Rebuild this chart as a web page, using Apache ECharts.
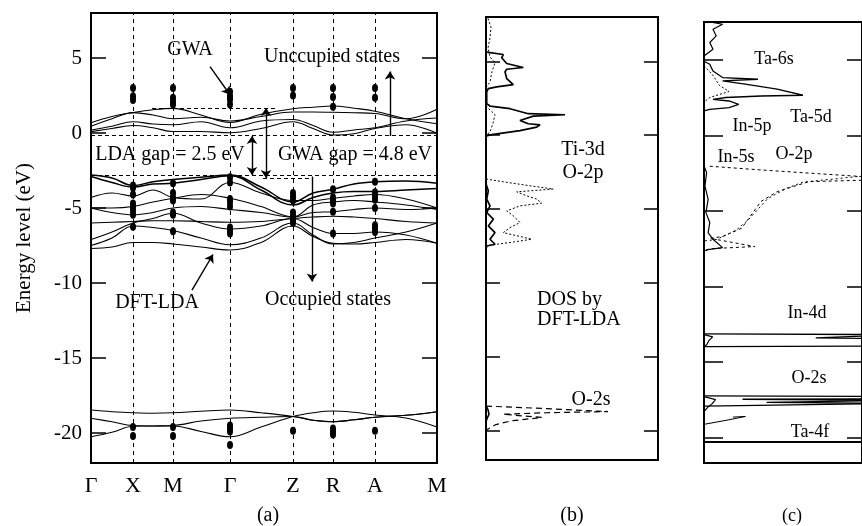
<!DOCTYPE html>
<html><head><meta charset="utf-8">
<script src="https://cdn.jsdelivr.net/npm/echarts@6/dist/echarts.min.js"></script>
<style>html,body{margin:0;padding:0;background:#fff}#c{width:862px;height:526px}</style>
</head><body><div id="c"></div>
<script>
// ---------- Panel (a): band structure ----------
const kPos   = [0, 42, 82, 139, 202, 242, 284, 346];
const kNames = ['Γ', 'X', 'M', 'Γ', 'Z', 'R', 'A', 'M'];
const kGrid  = [0, 21, 42, 62, 82, 110, 139, 170, 202, 222, 242, 263, 284, 315, 346];
const energyTicks = [-20, -15, -10, -5, 0, 5];

// conduction bands (eV)
const cb1 = [0.69, 1.1, 1.36, 1.55, 1.64, 1.2, 0.7, 1.25, 1.62, 1.72, 1.8, 1.65, 1.45, 0.95, 0.62];
const cb2 = [0.45, 0.95, 1.36, 1.2, 0.95, 1.05, 0.8, 1.1, 1.4, 1.4, 1.38, 1.35, 1.3, 0.95, 1.58];
const cb3 = [0.2, 0.45, 0.75, 0.6, 0.55, 0.75, 0.35, 0.8, 0.9, 0.5, 0.05, 0.2, 0.35, 0.8, 1.0];
const cb4 = [0.09, 0.3, 0.5, 0.35, 0.1, 0.1, 0.02, 0.3, 0.75, 0.3, -0.13, -0.05, 0.3, 0.55, -0.02];
// valence bands (eV)
const vb1 = [-2.8, -3.0, -3.5, -3.25, -3.1, -2.95, -2.8, -3.6, -4.6, -4.0, -3.75, -3.4, -3.25, -3.2, -3.35];
const vb2 = [-2.9, -3.3, -3.6, -3.4, -3.35, -3.1, -2.85, -3.8, -4.8, -4.3, -4.0, -3.9, -3.9, -3.8, -3.7];
const vb3 = [-4.3, -4.0, -4.2, -3.8, -4.3, -4.4, -3.3, -4.0, -4.5, -4.5, -4.35, -4.2, -4.1, -4.4, -5.0];
const vb4 = [-5.0, -5.0, -4.9, -4.6, -4.35, -4.1, -4.35, -4.9, -5.6, -4.8, -4.6, -4.5, -4.6, -4.8, -5.1];
const vb5 = [-5.0, -5.3, -5.45, -5.3, -5.0, -4.9, -5.1, -5.3, -5.6, -5.3, -5.25, -5.1, -5.0, -5.1, -5.0];
const vb6 = [-6.0, -5.95, -5.9, -5.85, -5.85, -5.9, -5.95, -5.9, -5.7, -5.6, -5.55, -5.6, -5.7, -5.9, -6.0];
const vb7 = [-7.1, -6.6, -6.0, -5.7, -5.35, -6.0, -6.4, -6.2, -5.7, -6.3, -6.7, -6.7, -6.6, -6.8, -7.35];
const vb8 = [-7.5, -7.0, -6.2, -6.3, -6.5, -7.0, -7.45, -7.0, -6.0, -6.8, -7.4, -7.3, -7.0, -6.6, -6.0];
const vb9 = [-7.7, -7.6, -7.3, -7.3, -7.4, -7.6, -7.8, -7.3, -6.2, -6.9, -7.35, -7.4, -7.3, -7.1, -7.35];
// O-2s bands (eV)
const sb1 = [-18.47, -18.58, -18.65, -18.68, -18.65, -18.55, -18.47, -18.65, -18.9, -19.15, -19.25, -19.12, -18.95, -18.82, -18.58];
const sb2 = [-19.02, -19.25, -19.5, -19.53, -19.53, -19.9, -20.25, -19.6, -18.9, -18.65, -18.53, -18.62, -18.8, -19.0, -19.6];
const sb3 = [-20.25, -19.95, -19.55, -19.53, -19.5, -19.2, -19.02, -18.95, -18.9, -19.15, -19.25, -19.12, -18.95, -18.82, -18.58];

// GWA quasiparticle energies at high-symmetry points (eV)
const gwaAtX = [3.0, 2.45, 2.2, -3.5, -3.65, -4.1, -4.7, -4.95, -5.2, -5.45, -6.25, -19.6, -20.2];
const gwaAtM = [3.0, 2.35, 2.1, 1.9, -3.35, -4.0, -4.3, -4.5, -5.3, -5.45, -6.55, -19.6, -20.2];
const gwaAtG = [2.75, 2.45, 2.25, 1.9, -2.95, -3.3, -4.4, -4.6, -4.9, -6.3, -6.5, -6.7, -19.5, -19.7, -19.9, -20.8];
const gwaAtZ = [3.0, 2.5, -4.0, -4.25, -4.5, -5.3, -5.55, -5.8, -6.0, -19.85];
const gwaAtR = [3.0, 2.4, 1.75, -3.75, -4.3, -4.5, -4.7, -5.25, -6.7, -19.7, -19.9, -20.1];
const gwaAtA = [3.0, 2.35, -3.25, -3.95, -4.2, -4.45, -5.0, -6.15, -6.35, -6.6, -19.85];

// ---------- Panel (b): DOS [dos, energy] ----------
const bTi3dCB = [[0,7.9],[0,5.65],[2.3,5.6],[17.3,5.46],[15.7,5.24],[20.7,4.85],[37.3,4.58],[20.7,4.46],[19,4.29],[20.7,3.83],[27.3,3.42],[10.7,3.27],[2.3,3.15],[0.7,2.93],[0.7,2.13],[4,1.97],[24,1.79],[42.3,1.45],[79,1.38],[47.3,1.29],[34,0.99],[42.3,0.77],[54,0.7],[50.7,0.54],[34,0.31],[4,0.02],[0,-0.07]];
const bTi3dVB = [[0,-3.3],[2.3,-3.77],[0.7,-4.33],[4,-4.79],[0.7,-5.24],[7.3,-5.69],[2.3,-6.15],[9,-6.6],[4,-7.05],[9,-7.39],[0.7,-7.51],[0,-7.73]];
const bO2pCB1 = [[2,7.9],[5,7.3],[4,6.6],[2,5.9],[4,5.3],[9,4.9],[6,4.3],[4,3.6],[0,3.2]];
const bO2pCB2 = [[0,2.0],[4,1.7],[9,1.4],[7,0.8],[4,0.2],[0,0]];
const bO2pVB = [[0,-2.97],[17.3,-3.16],[44,-3.43],[67.3,-3.65],[30.7,-3.84],[40.7,-4.11],[50.7,-4.33],[55.7,-4.61],[34,-4.79],[20.7,-5.13],[27.3,-5.47],[34,-5.92],[24,-6.26],[17.3,-6.6],[45.7,-7.05],[27.3,-7.24],[10.7,-7.39],[0,-7.51]];
const bO2s = [[0,-18.35],[60,-18.52],[122,-18.72],[60,-18.8],[17,-18.9],[56,-19.12],[25,-19.35],[10,-19.6],[0,-19.98]];
const bO2sCore = [[0,-18.3],[2,-18.6],[3,-18.9],[1,-19.2],[0,-19.4]];

// ---------- Panel (c): DOS [dos, energy] ----------
const cTa6s = [[0,7.57],[19.3,7.35],[9.3,7.02],[12.7,6.58],[6,6.14],[9.3,5.7],[0,5.25]];
const cTa5d = [[0,4.9],[6,4.7],[9.3,4.26],[19.3,3.82],[56,3.71],[19.3,3.6],[42.7,3.38],[76,3.05],[102.7,2.65],[59.3,2.6],[22.7,2.5],[9.3,2.38],[26,2.27],[36,2.05],[26,1.83],[6,1.72],[0,1.61]];
const cIn5p = [[0,4.6],[9,4.0],[16,3.3],[26,2.9],[6,2.5],[0,2.2]];
const cVB = [[0,-2.03],[2.7,-2.47],[1,-3.36],[4.3,-4.24],[2,-5.12],[6,-5.78],[4.3,-6.45],[9.3,-6.89],[19.3,-7.44],[6,-7.55],[0,-7.66]];
const cO2p1 = [[6,-2.05],[60,-2.3],[120,-2.55],[180,-2.8],[180,-2.95],[109,-3.07],[76,-3.73],[59,-4.39],[49,-5.28],[39,-6.16],[19,-6.71],[6,-6.82],[53,-7.37],[9,-7.5],[0,-7.6]];
const cO2p2 = [[180,-2.6],[103,-3.1],[86,-3.5],[66,-4.2],[56,-4.9],[46,-5.6],[33,-6.3],[13,-6.9],[0,-7.0]];
const cIn4d = [[0,-13.15],[200,-13.2],[200,-13.3],[116,-13.42],[200,-13.48],[200,-13.95],[0,-14.0]];
const cIn4dCore = [[0,-13.2],[9,-13.35],[5,-13.6],[3,-13.85],[0,-14.0]];
const cO2s = [[0,-17.26],[200,-17.3],[200,-17.45],[40,-17.48],[200,-17.55],[200,-17.62],[65,-17.68],[200,-17.75],[200,-17.85],[0,-17.93]];
const cO2sCore = [[0,-17.3],[12,-17.5],[8,-17.8],[4,-18.0],[0,-18.3]];
const cTail = [[0,-19.14],[25,-18.85],[43,-18.62],[30,-18.66]];
const cTa4f = [[0,-20.31],[200,-20.31]];

// ---------- build ----------
const FONT = '"Liberation Serif","Times New Roman",serif';
const chart = echarts.init(document.getElementById('c'), null, {renderer: 'canvas'});

function band(arr, extra) {
  return Object.assign({
    type: 'line', xAxisIndex: 0, yAxisIndex: 0,
    data: kGrid.map((k, i) => [k, arr[i]]),
    smooth: 0.4, symbol: 'none', silent: true,
    lineStyle: {color: '#000', width: 1.1}, z: 3
  }, extra || {});
}
function dos(idx, arr, style) {
  return {
    type: 'line', xAxisIndex: idx, yAxisIndex: idx * 2,
    data: arr, symbol: 'none', silent: true, clip: true,
    lineStyle: Object.assign({color: '#000', width: 1}, style || {}), z: 3
  };
}
const arrowStyle = {color: '#000', width: 1.4, type: 'solid'};
function arrow(x1, y1, x2, y2, s1, s2) {
  return [{coord: [x1, y1], symbol: s1}, {coord: [x2, y2], symbol: s2}];
}

const series = [
  band(cb1, {markLine: {
    silent: true, symbol: ['none', 'none'], label: {show: false},
    lineStyle: {color: '#000', type: [4, 4], width: 1},
    data: kPos.slice(1, -1).map(v => ({xAxis: v}))
  }}),
  band(cb2, {markLine: {
    silent: true, symbol: ['none', 'none'], label: {show: false},
    lineStyle: {color: '#000', type: [4, 3], width: 1},
    data: [
      [{coord: [0, -0.15]}, {coord: [346, -0.15]}],
      [{coord: [0, -2.8]}, {coord: [346, -2.8]}],
      [{coord: [61, 1.67]}, {coord: [187, 1.67]}],
      [{coord: [172, -3.0]}, {coord: [221, -3.0]}]
    ]
  }}),
  band(cb3, {markLine: {
    silent: true, symbolSize: 8, label: {show: false}, lineStyle: arrowStyle,
    data: [
      arrow(161, -0.2, 161, -2.8, 'arrow', 'arrow'),
      arrow(175, 1.67, 175, -3.0, 'arrow', 'arrow'),
      arrow(299, -0.2, 299, 4.1, 'none', 'arrow'),
      arrow(221, -2.9, 221, -9.9, 'none', 'arrow'),
      arrow(119, 4.42, 139, 2.55, 'none', 'arrow'),
      arrow(101, -10.47, 122, -8.1, 'none', 'arrow')
    ]
  }}),
  band(cb4),
  band(vb1, {lineStyle: {color: '#000', width: 1.5}}),
  band(vb2, {lineStyle: {color: '#000', width: 1.5}}),
  band(vb3), band(vb4), band(vb5), band(vb6), band(vb7), band(vb8), band(vb9),
  band(sb1), band(sb2), band(sb3),
  {
    type: 'scatter', xAxisIndex: 0, yAxisIndex: 0, symbolSize: [6, 8], silent: true, z: 5,
    itemStyle: {color: '#000', opacity: 1},
    data: [].concat(
      gwaAtX.map(e => [kPos[1], e]), gwaAtM.map(e => [kPos[2], e]),
      gwaAtG.map(e => [kPos[3], e]), gwaAtZ.map(e => [kPos[4], e]),
      gwaAtR.map(e => [kPos[5], e]), gwaAtA.map(e => [kPos[6], e]))
  },
  // panel (b)
  dos(1, bTi3dCB, {width: 1.7}),
  dos(1, bTi3dVB, {width: 1.7}),
  dos(1, bO2pCB1, {type: [2, 2]}),
  dos(1, bO2pCB2, {type: [2, 2]}),
  dos(1, bO2pVB, {type: [2, 2]}),
  dos(1, bO2s, {type: [6, 4], width: 1.2}),
  dos(1, bO2sCore, {width: 1.6}),
  // panel (c)
  dos(2, cTa6s, {width: 1.2}),
  dos(2, cTa5d, {width: 1.3}),
  dos(2, cIn5p, {type: [2, 2]}),
  dos(2, cVB, {width: 1.2}),
  dos(2, cO2p1, {type: [3, 3]}),
  dos(2, cO2p2, {type: [2, 3]}),
  dos(2, cIn4d, {width: 1.3}),
  dos(2, cIn4dCore, {width: 1.2}),
  dos(2, cO2s, {width: 1.3}),
  dos(2, cO2sCore, {width: 1.2}),
  dos(2, cTail, {width: 1}),
  dos(2, cTa4f, {width: 2})
];

function yAx(grid, pos, min, max, tickLen, extra) {
  return Object.assign({
    type: 'value', gridIndex: grid, position: pos, min: min, max: max,
    axisLine: {show: false}, splitLine: {show: false},
    axisTick: {show: true, inside: true, length: tickLen, customValues: energyTicks,
               lineStyle: {color: '#000', width: 1.5}},
    axisLabel: {show: false}
  }, extra || {});
}

const option = {
  animation: false,
  backgroundColor: '#fff',
  grid: [
    {left: 91, top: 13, width: 346, height: 450, show: true, borderColor: '#000', borderWidth: 2},
    {left: 486, top: 17, width: 172, height: 443, show: true, borderColor: '#000', borderWidth: 2},
    {left: 704, top: 22, width: 164, height: 441, show: true, borderColor: '#000', borderWidth: 2}
  ],
  xAxis: [
    {type: 'value', gridIndex: 0, min: 0, max: 346,
     axisLine: {show: false}, axisTick: {show: false}, splitLine: {show: false},
     axisLabel: {customValues: kPos, formatter: (v) => kNames[kPos.indexOf(v)],
                 margin: 12, fontSize: 22, fontFamily: FONT, color: '#000'}},
    {type: 'value', gridIndex: 1, min: 0, max: 172, show: false},
    {type: 'value', gridIndex: 2, min: 0, max: 164, show: false}
  ],
  yAxis: [
    yAx(0, 'left', -22, 8, 15, {
      name: 'Energy level (eV)', nameLocation: 'middle', nameGap: 56,
      nameTextStyle: {fontSize: 21, fontFamily: FONT, color: '#000'},
      axisLabel: {show: true, customValues: energyTicks, margin: 9, fontSize: 21, fontFamily: FONT, color: '#000'}
    }),
    yAx(0, 'right', -22, 8, 15),
    yAx(1, 'left', -22, 8, 14),
    yAx(1, 'right', -22, 8, 14),
    yAx(2, 'left', -21.7, 7.5, 19),
    yAx(2, 'right', -21.7, 7.5, 15)
  ],
  graphic: [
    ['GWA', 190, 50, 'center'],
    ['Unccupied states', 332, 57, 'center'],
    ['LDA gap = 2.5 eV', 170, 155, 'center'],
    ['GWA gap = 4.8 eV', 355, 155, 'center'],
    ['DFT-LDA', 157, 303, 'center'],
    ['Occupied states', 328, 300, 'center'],
    ['(a)', 268, 516, 'center'],
    ['Ti-3d', 583, 150, 'center'],
    ['O-2p', 583, 173, 'center'],
    ['DOS by', 537, 300, 'left'],
    ['DFT-LDA', 537, 320, 'left'],
    ['O-2s', 591, 400, 'center'],
    ['(b)', 572, 516, 'center'],
    ['Ta-6s', 774, 59, 'center'],
    ['Ta-5d', 811, 117, 'center'],
    ['In-5p', 752, 126, 'center'],
    ['In-5s', 736, 157, 'center'],
    ['O-2p', 794, 154, 'center'],
    ['In-4d', 807, 313, 'center'],
    ['O-2s', 809, 378, 'center'],
    ['Ta-4f', 810, 432, 'center'],
    ['(c)', 792, 516, 'center']
  ].map(([t, x, y, a]) => ({
    type: 'text', z: 100, silent: true,
    style: {text: t, x: x, y: y, textAlign: a, textVerticalAlign: 'middle',
            font: (x > 700 ? '18px ' : '20px ') + FONT, fill: '#000'}
  })),
  series: series
};
chart.setOption(option);
</script>
</body></html>
